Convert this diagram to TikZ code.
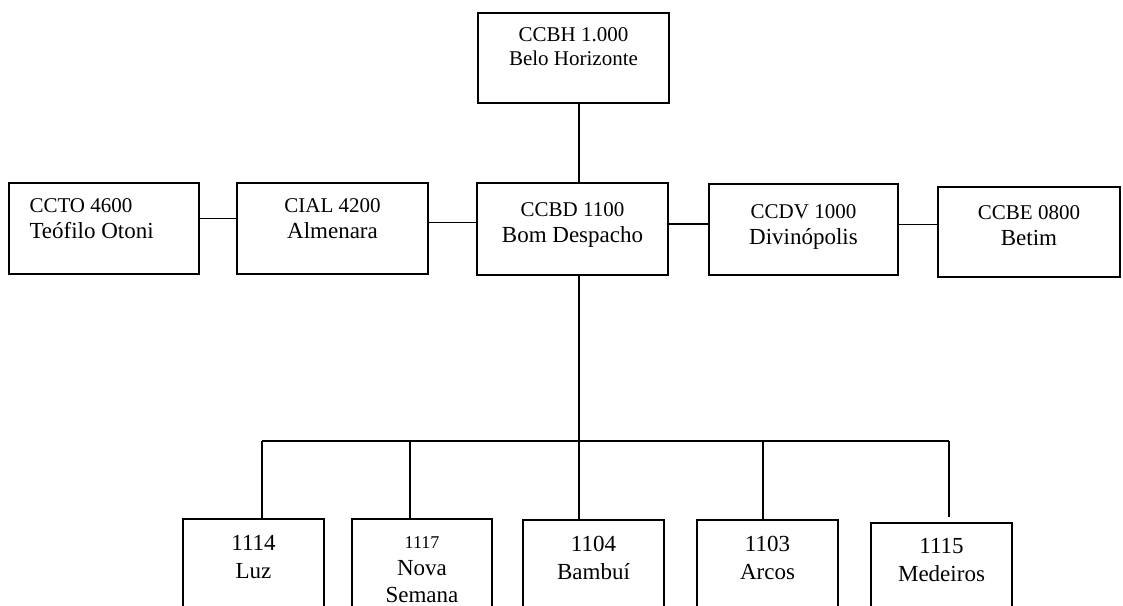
\documentclass[tikz,border=0pt]{standalone}
\usepackage{fontspec}
\setmainfont{Liberation Serif}
\newcommand{\ccnum}[1]{{\fontsize{21}{26}\selectfont #1}}

\begin{document}
\begin{tikzpicture}[x=1pt,y=-1pt,
  unit/.style={draw, line width=1.4pt, inner sep=0pt},
  txt/.style={anchor=north, inner sep=0pt, align=center, font=\fontsize{23}{26}\selectfont},
  link/.style={line width=1.4pt}]
  \useasboundingbox (0,0) rectangle (1123,605);
  \clip (0,0) rectangle (1123,605);

  % top level
  \node[unit, minimum width=191, minimum height=90] (ccbh) at (573.5,58) {};
  \node[txt, font=\fontsize{21}{24}\selectfont] (ccbh-t) at ([yshift=-15pt]ccbh.north) {CCBH 1.000\\Belo Horizonte};

  % middle row
  \node[unit, minimum width=190, minimum height=91] (ccto) at (104,228.5) {};
  \node[txt, anchor=north west, align=left] (ccto-t) at ([xshift=21pt,yshift=-16pt]ccto.north west) {\ccnum{CCTO 4600}\\Teófilo Otoni};
  \node[unit, minimum width=191, minimum height=91] (cial) at (332.5,228.5) {};
  \node[txt] (cial-t) at ([yshift=-16pt]cial.north) {\ccnum{CIAL 4200}\\Almenara};
  \node[unit, minimum width=191, minimum height=92] (ccbd) at (572.5,229) {};
  \node[txt] (ccbd-t) at ([yshift=-20pt]ccbd.north) {\ccnum{CCBD 1100}\\Bom Despacho};
  \node[unit, minimum width=189, minimum height=91] (ccdv) at (803.5,229.5) {};
  \node[txt] (ccdv-t) at ([yshift=-21pt]ccdv.north) {\ccnum{CCDV 1000}\\Divinópolis};
  \node[unit, minimum width=182, minimum height=90] (ccbe) at (1029,232) {};
  \node[txt] (ccbe-t) at ([yshift=-19pt]ccbe.north) {\ccnum{CCBE 0800}\\Betim};

  % bottom row
  \node[unit, minimum width=141, minimum height=120] (luz) at (253.5,579) {};
  \node[txt, font=\fontsize{23}{28}\selectfont] (luz-t) at ([yshift=-17pt]luz.north) {1114\\Luz};
  \node[unit, minimum width=140, minimum height=120] (nova) at (422,579) {};
  \node[txt, font=\fontsize{23}{27}\selectfont] (nova-t) at ([yshift=-18pt]nova.north) {{\fontsize{18}{26}\selectfont 1117}\\Nova\\Semana};
  \node[unit, minimum width=141, minimum height=120] (bambui) at (593.5,580) {};
  \node[txt, font=\fontsize{23}{28}\selectfont] (bambui-t) at ([yshift=-17pt]bambui.north) {1104\\Bambuí};
  \node[unit, minimum width=141, minimum height=120] (arcos) at (767.5,580) {};
  \node[txt, font=\fontsize{23}{28}\selectfont] (arcos-t) at ([yshift=-17pt]arcos.north) {1103\\Arcos};
  \node[unit, minimum width=141, minimum height=120] (medeiros) at (941.5,583) {};
  \node[txt, font=\fontsize{23}{28}\selectfont] (medeiros-t) at ([yshift=-16pt]medeiros.north) {1115\\Medeiros};

  % connectors
  \coordinate (hub) at (579,441);
  \coordinate (bus-luz) at (262,441);
  \coordinate (bus-nova) at (410,441);
  \coordinate (bus-arcos) at (763,441);
  \coordinate (bus-medeiros) at (949,441);
  \draw[link] (hub |- ccbh.south) -- (hub |- ccbd.north);
  \draw[link] ([yshift=10pt]ccto.east) -- ([yshift=10pt]ccto.east -| cial.west);
  \draw[link] ([yshift=6pt]cial.east) -- ([yshift=6pt]cial.east -| ccbd.west);
  \draw[link] ([yshift=5pt]ccbd.east) -- ([yshift=5pt]ccbd.east -| ccdv.west);
  \draw[link] ([yshift=5pt]ccdv.east) -- ([yshift=5pt]ccdv.east -| ccbe.west);
  \draw[link] (hub |- ccbd.south) -- (hub |- bambui.north);
  \draw[link] (bus-luz) -- (bus-medeiros);
  \draw[link] (bus-luz) -- (bus-luz |- luz.north);
  \draw[link] (bus-nova) -- (bus-nova |- nova.north);
  \draw[link] (bus-arcos) -- (bus-arcos |- arcos.north);
  \draw[link] (bus-medeiros) -- ([yshift=5pt]bus-medeiros |- medeiros.north);
\end{tikzpicture}
\end{document}
